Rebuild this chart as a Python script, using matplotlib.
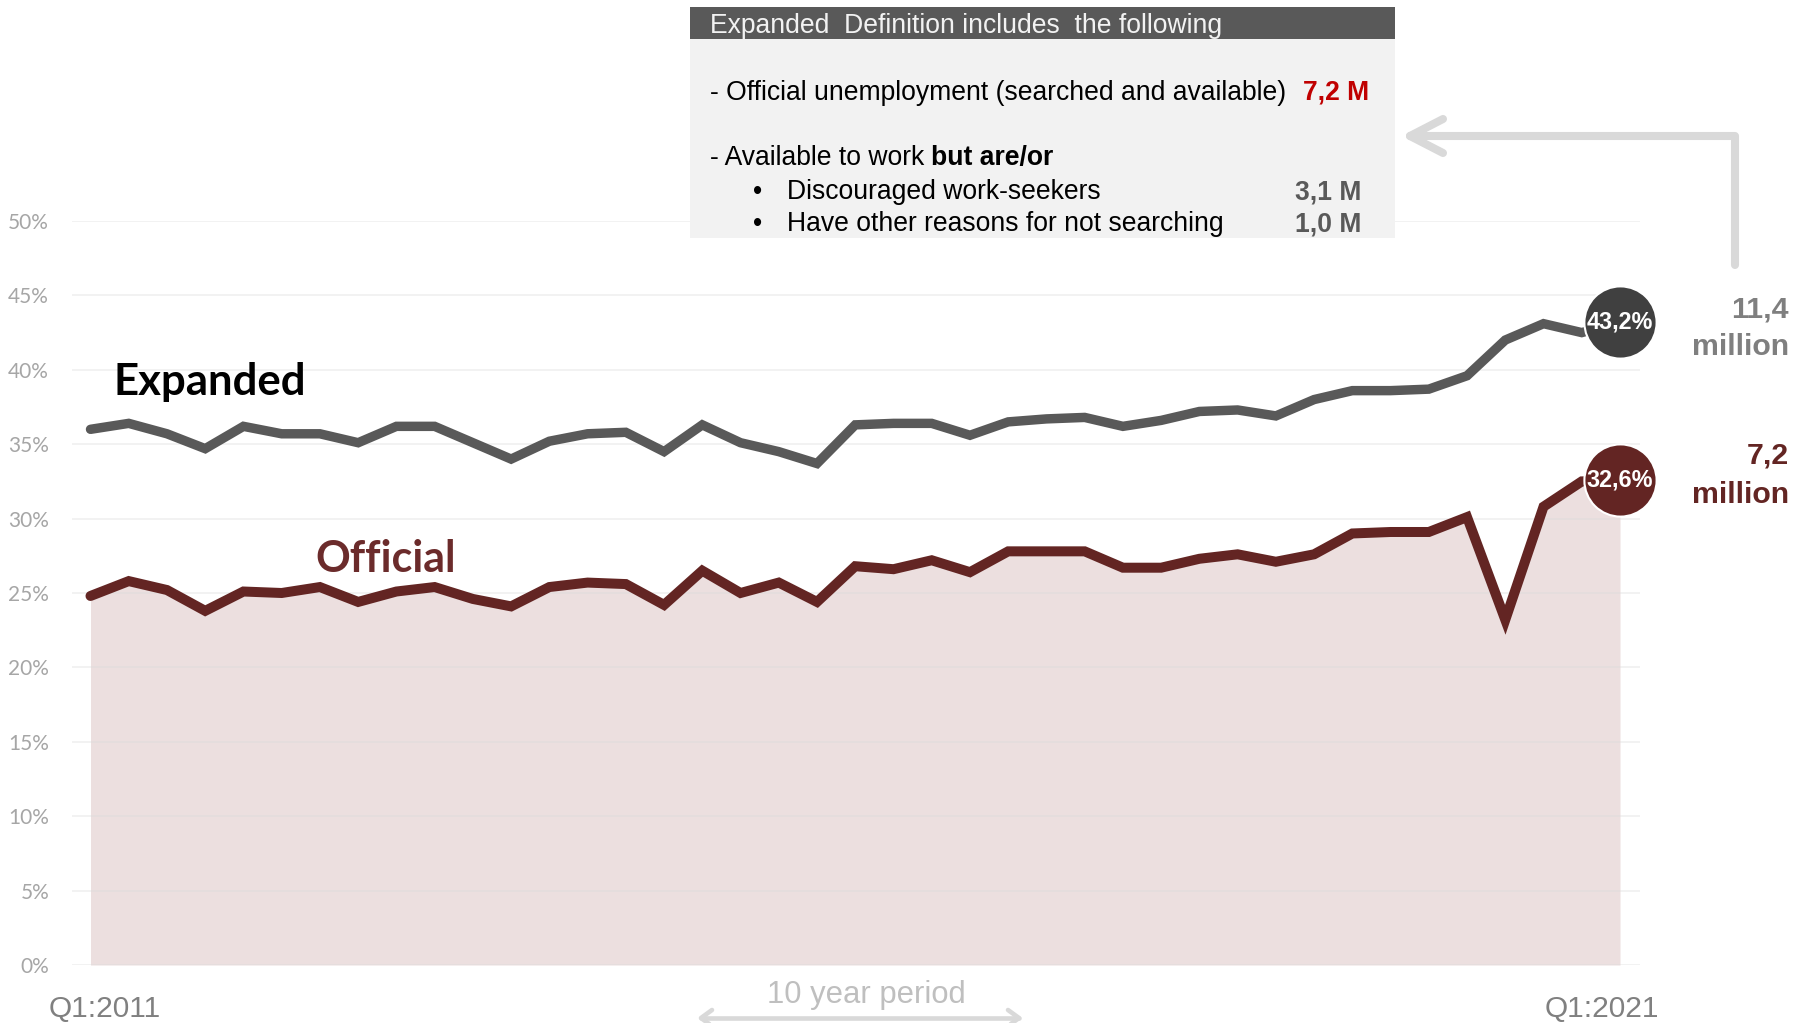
import matplotlib
matplotlib.use("Agg")
import matplotlib.pyplot as plt
from matplotlib import font_manager
from matplotlib.patches import Rectangle
from matplotlib.lines import Line2D

# ---- data -----------------------------------------------------------------
years = list(range(2011, 2022))
quarters = [f"Q{q}:{y}" for y in years for q in range(1, 5)][:41]

expanded = [36.0, 36.4, 35.7, 34.7, 36.2, 35.7, 35.7, 35.1, 36.2, 36.2,
            35.1, 34.0, 35.2, 35.7, 35.8, 34.5, 36.3, 35.1, 34.5, 33.7,
            36.3, 36.4, 36.4, 35.6, 36.5, 36.7, 36.8, 36.2, 36.6, 37.2,
            37.3, 36.9, 38.0, 38.6, 38.6, 38.7, 39.6, 42.0, 43.1, 42.5, 43.2]

official = [24.8, 25.8, 25.2, 23.8, 25.1, 25.0, 25.4, 24.4, 25.1, 25.4,
            24.6, 24.1, 25.4, 25.7, 25.6, 24.2, 26.5, 25.0, 25.7, 24.4,
            26.8, 26.6, 27.2, 26.4, 27.8, 27.8, 27.8, 26.7, 26.7, 27.3,
            27.6, 27.1, 27.6, 29.0, 29.1, 29.1, 30.1, 23.2, 30.8, 32.5, 32.6]

y_ticks = [0, 5, 10, 15, 20, 25, 30, 35, 40, 45, 50]
y_tick_labels = [f"{v}%" for v in y_ticks]
period_labels = [quarters[0], quarters[-1]]

expanded_people = "11,4"
official_people = "7,2"
box_items = [("Discouraged work-seekers", "3,1 M"),
             ("Have other reasons for not searching", "1,0 M")]

# ---- styling ----------------------------------------------------------------
W, H, DPI = 1796, 1023, 100
C_EXP = "#595959"
C_OFF = "#632523"
C_FILL = "#ecdfdf"
C_TICK = "#a6a6a6"

def has_font(name):
    try:
        font_manager.findfont(name, fallback_to_default=False)
        return True
    except Exception:
        return False

NARROW = "Liberation Sans Narrow" if has_font("Liberation Sans Narrow") else None
ARIAL = "Liberation Sans"

def px(x, y):
    """pixel position (from top-left) -> figure fraction"""
    return x / W, 1 - y / H

fig = plt.figure(figsize=(W / DPI, H / DPI), dpi=DPI)
fig.patch.set_facecolor("white")

ax_l, ax_r, ax_t, ax_b = 72, 1640, 221, 965
ax = fig.add_axes([ax_l / W, 1 - ax_b / H, (ax_r - ax_l) / W, (ax_b - ax_t) / H])
x = list(range(len(quarters)))
step = (1620 - 90.5) / 40
ax.set_xlim(-(90.5 - ax_l) / step, 40 + (ax_r - 1620) / step)
ax.set_ylim(0, 50)
for s in ax.spines.values():
    s.set_visible(False)
ax.set_xticks([])
ax.set_yticks(y_ticks)
ax.set_yticklabels(y_tick_labels, fontfamily="Lato", fontsize=15, color=C_TICK)
ax.tick_params(axis="y", length=0, pad=16.5)
ax.grid(axis="y", color="#d9d9d9", alpha=0.38, linewidth=1.2, zorder=2)
ax.set_axisbelow(False)

# area under the official rate
ax.fill_between(x, 0, official, color=C_FILL, linewidth=0, zorder=1)

ax.plot(x, expanded, color=C_EXP, linewidth=6.8, solid_capstyle="round",
        solid_joinstyle="miter", zorder=4)
ax.plot(x, official, color=C_OFF, linewidth=7.2, solid_capstyle="round",
        solid_joinstyle="miter", zorder=4)

# end-point badges
for series, col in ((expanded, "#404040"), (official, C_OFF)):
    ax.plot(x[-1], series[-1], marker="o", markersize=52, color=col,
            markeredgecolor="white", markeredgewidth=1.5, clip_on=False, zorder=6)
    ax.text(x[-1], series[-1], f"{series[-1]:.1f}%".replace(".", ","),
            ha="center", va="center", color="white", fontsize=16.8,
            fontweight="bold", fontfamily=ARIAL, zorder=7)

# series names
fig.text(*px(113, 395), "Expanded", fontfamily="Lato", fontweight="bold",
         fontsize=31.5, color="black", va="baseline", ha="left")
fig.text(*px(315, 572), "Official", fontfamily="Lato", fontweight="bold",
         fontsize=31, color="#6b2b2b", va="baseline", ha="left")

# period labels under the first and last quarter
q_font = dict(fontfamily=NARROW, fontsize=24) if NARROW else dict(fontfamily=ARIAL, fontsize=21.5)
for xi, lab, dx in ((x[0], period_labels[0], 14.5), (x[-1], period_labels[1], -18.5)):
    ax.annotate(lab, xy=(xi, 0), xycoords="data", xytext=(dx, -52),
                textcoords="offset pixels", ha="center", va="baseline",
                color="#808080", annotation_clip=False, **q_font)

fig.text(*px(866, 1003), "10 year period", ha="center", va="baseline",
         fontfamily=ARIAL, fontsize=22.3, color="#bfbfbf")

def poly(points, lw, color):
    xs, ys = zip(*[px(a, b) for a, b in points])
    fig.add_artist(Line2D(xs, ys, transform=fig.transFigure, linewidth=lw,
                          color=color, solid_capstyle="round",
                          solid_joinstyle="round"))

ARROW = "#d9d9d9"
# double arrow under the period text
poly([(701, 1018), (1019, 1018)], 3.3, ARROW)
poly([(712, 1010), (701, 1018), (712, 1026)], 3.3, ARROW)
poly([(1008, 1010), (1019, 1018), (1008, 1026)], 3.3, ARROW)

# elbow arrow from the expanded total to the definition box
poly([(1735, 265), (1735, 136), (1410, 136)], 5.8, ARROW)
poly([(1443, 119), (1410, 136), (1443, 153)], 5.8, ARROW)

# totals in millions
fig.text(*px(1789, 318), expanded_people, ha="right", va="baseline",
         fontfamily=ARIAL, fontweight="bold", fontsize=21.8, color="#7f7f7f")
fig.text(*px(1789, 355), "million", ha="right", va="baseline",
         fontfamily=ARIAL, fontweight="bold", fontsize=21.8, color="#7f7f7f")
fig.text(*px(1789, 463), official_people, ha="right", va="baseline",
         fontfamily=ARIAL, fontweight="bold", fontsize=21.8, color=C_OFF)
fig.text(*px(1789, 503), "million", ha="right", va="baseline",
         fontfamily=ARIAL, fontweight="bold", fontsize=21.8, color=C_OFF)

# definition box
bx0, bx1 = 690, 1395
fig.add_artist(Rectangle(px(bx0, 238), (bx1 - bx0) / W, (238 - 39) / H,
                         transform=fig.transFigure, facecolor="#f2f2f2",
                         edgecolor="none", zorder=8))
fig.add_artist(Rectangle(px(bx0, 39), (bx1 - bx0) / W, (39 - 7) / H,
                         transform=fig.transFigure, facecolor="#595959",
                         edgecolor="none", zorder=8))

box_fs = 19.1
fig.text(*px(710, 33), "Expanded  Definition includes  the following",
         fontfamily=ARIAL, fontsize=box_fs, color="#f2f2f2", va="baseline",
         ha="left", zorder=9)
fig.text(*px(710, 100), "- Official unemployment (searched and available)",
         fontfamily=ARIAL, fontsize=box_fs, color="black", va="baseline",
         ha="left", zorder=9)
fig.text(*px(1369, 100), f"{official_people} M", fontfamily=ARIAL,
         fontsize=box_fs, fontweight="bold", color="#c00000", va="baseline",
         ha="right", zorder=9)
t2 = fig.text(*px(710, 165), "- Available to work", fontfamily=ARIAL,
              fontsize=box_fs, color="black", va="baseline", ha="left", zorder=9)
fig.add_artist(plt.Annotation("but are/or", xy=(1, 0), xycoords=t2,
                              xytext=(7, 0), textcoords="offset pixels",
                              fontfamily=ARIAL, fontsize=box_fs,
                              fontweight="bold", color="black",
                              va="bottom", ha="left", zorder=9))
for (label, value), yb in zip(box_items, (199, 231)):
    fig.text(*px(753, yb), "\u2022", fontfamily=ARIAL, fontsize=box_fs,
             color="black", va="baseline", ha="left", zorder=9)
    fig.text(*px(787, yb), label, fontfamily=ARIAL, fontsize=box_fs,
             color="black", va="baseline", ha="left", zorder=9)
    fig.text(*px(1361, yb), value, fontfamily=ARIAL, fontsize=box_fs,
             fontweight="bold", color="#595959", va="baseline", ha="right",
             zorder=9)

fig.savefig("out.png", dpi=DPI, facecolor="white")
